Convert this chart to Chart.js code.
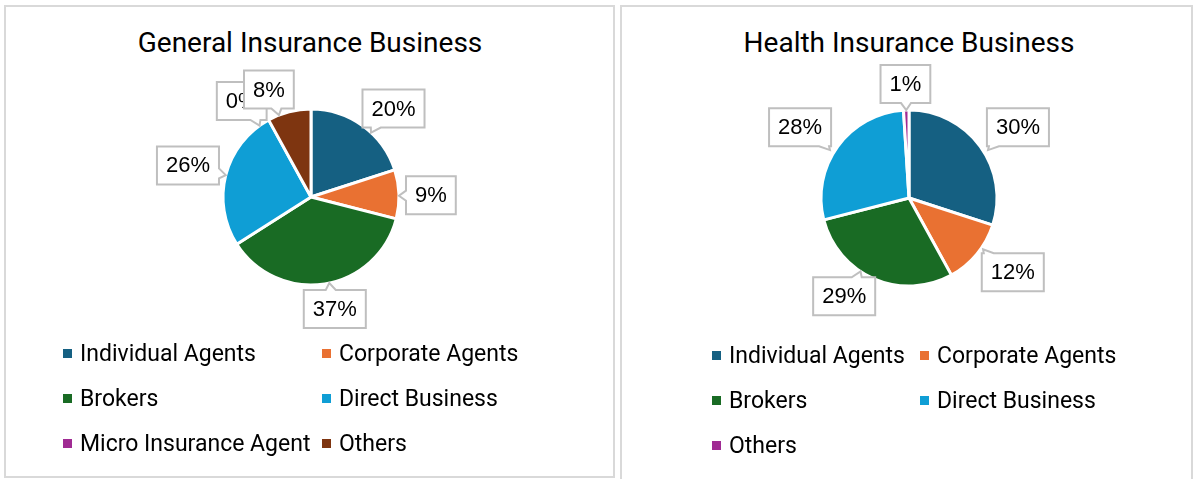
<!DOCTYPE html>
<html>
<head>
<meta charset="utf-8">
<script src="https://cdn.jsdelivr.net/npm/chart.js@4.4.1/dist/chart.umd.min.js"></script>
<style>
  html, body { margin: 0; padding: 0; background: #fff; width: 1197px; height: 479px; overflow: hidden; }
  .panel { position: absolute; border: 2px solid #D9D9D9; box-sizing: border-box; }
  #panelGeneral { left: 4px; top: 5px; width: 611px; height: 473px; }
  #panelHealth { left: 620px; top: 5px; width: 573px; height: 490px; }
  .title { position: absolute; width: 500px; text-align: center; white-space: nowrap;
           font-family: Roboto, sans-serif; font-size: 28px; line-height: 32px; color: #000; }
  .legend { position: absolute; display: grid; font-family: Roboto, sans-serif; font-size: 23px; color: #000; }
  .legend .item { display: flex; align-items: center; height: 45px; white-space: nowrap; }
  .legend .sw { width: 9px; height: 9px; margin-right: 8px; flex: none; }
  canvas { position: absolute; }
</style>
</head>
<body>
<div class="panel" id="panelGeneral"></div>
<div class="panel" id="panelHealth"></div>

<div class="title" id="titleGeneral" style="left:60px; top:27px;"></div>
<div class="title" id="titleHealth" style="left:659px; top:27px;"></div>

<canvas id="pieGeneral" width="600" height="390" style="left:11px; top:2px;"></canvas>
<canvas id="pieHealth" width="560" height="390" style="left:629px; top:3px;"></canvas>

<div class="legend" id="legendGeneral" style="left:63px; top:331px; grid-template-columns: 259px auto;"></div>
<div class="legend" id="legendHealth" style="left:712px; top:333px; grid-template-columns: 208px auto;"></div>

<script>
// Channel shares (%) for each line of business
const titleGeneral = 'General Insurance Business';
const categoriesGeneral = ['Individual Agents', 'Corporate Agents', 'Brokers', 'Direct Business', 'Micro Insurance Agent', 'Others'];
const sharesGeneral = [20, 9, 37, 26, 0, 8];
const coloursGeneral = ['#156082', '#E97132', '#196B24', '#0F9ED5', '#A02B93', '#7E3510'];

const titleHealth = 'Health Insurance Business';
const categoriesHealth = ['Individual Agents', 'Corporate Agents', 'Brokers', 'Direct Business', 'Others'];
const sharesHealth = [30, 12, 29, 28, 1];
const coloursHealth = ['#156082', '#E97132', '#196B24', '#0F9ED5', '#A02B93'];

// Small angular shifts (degrees) that keep neighbouring callouts apart
const calloutShiftGeneral = [7, 1, -3, 0, -7, -7];
const calloutShiftHealth = [3, -4, 10, -3, 0];

// Draws a bordered callout box with a small pointer aimed at the pie centre
function drawCallout(ctx, bx, by, w, h, px, py, opts) {
  const x0 = bx - w / 2, x1 = bx + w / 2, y0 = by - h / 2, y1 = by + h / 2;
  let vx = px - bx, vy = py - by;
  const len = Math.hypot(vx, vy) || 1;
  vx /= len; vy /= len;
  const tl = opts.tailLength, tb = opts.tailBase;
  let side, ex, ey;
  if (Math.abs(vx) * (h / 2) >= Math.abs(vy) * (w / 2)) {
    side = vx > 0 ? 'right' : 'left';
    ex = vx > 0 ? x1 : x0;
    ey = by + vy * (w / 2) / Math.abs(vx);
    ey = Math.max(y0 + tb + 2, Math.min(y1 - tb - 2, ey));
  } else {
    side = vy > 0 ? 'bottom' : 'top';
    ey = vy > 0 ? y1 : y0;
    ex = bx + vx * (h / 2) / Math.abs(vy);
    ex = Math.max(x0 + tb + 2, Math.min(x1 - tb - 2, ex));
  }
  const tx = ex + vx * tl, ty = ey + vy * tl;
  ctx.beginPath();
  ctx.moveTo(x0, y0);
  if (side === 'top') { ctx.lineTo(ex - tb, y0); ctx.lineTo(tx, ty); ctx.lineTo(ex + tb, y0); }
  ctx.lineTo(x1, y0);
  if (side === 'right') { ctx.lineTo(x1, ey - tb); ctx.lineTo(tx, ty); ctx.lineTo(x1, ey + tb); }
  ctx.lineTo(x1, y1);
  if (side === 'bottom') { ctx.lineTo(ex + tb, y1); ctx.lineTo(tx, ty); ctx.lineTo(ex - tb, y1); }
  ctx.lineTo(x0, y1);
  if (side === 'left') { ctx.lineTo(x0, ey + tb); ctx.lineTo(tx, ty); ctx.lineTo(x0, ey - tb); }
  ctx.closePath();
  ctx.fillStyle = '#FFFFFF';
  ctx.fill();
  ctx.lineWidth = opts.borderWidth;
  ctx.strokeStyle = opts.borderColor;
  ctx.lineJoin = 'miter';
  ctx.stroke();
}

// Percentage labels placed just outside each slice
const calloutLabels = {
  id: 'calloutLabels',
  afterDatasetsDraw(chart, args, opts) {
    const ctx = chart.ctx;
    const meta = chart.getDatasetMeta(0);
    const values = chart.data.datasets[0].data;
    const total = values.reduce((a, b) => a + b, 0);
    const shifts = opts.shift || [];
    ctx.save();
    ctx.font = opts.font;
    meta.data.forEach((arc, i) => {
      const p = arc.getProps(['x', 'y', 'startAngle', 'endAngle', 'outerRadius'], true);
      const mid = (p.startAngle + p.endAngle) / 2 + (shifts[i] || 0) * Math.PI / 180;
      const c = Math.cos(mid), s = Math.sin(mid);
      const text = Math.round(values[i] / total * 100) + '%';
      const w = ctx.measureText(text).width + 2 * opts.padX;
      const h = opts.height;
      const ex = Math.abs(c) > 1e-6 ? (w / 2) / Math.abs(c) : Infinity;
      const ey = Math.abs(s) > 1e-6 ? (h / 2) / Math.abs(s) : Infinity;
      const d = p.outerRadius + opts.gap + Math.min(ex, ey);
      const bx = p.x + c * d, by = p.y + s * d;
      drawCallout(ctx, bx, by, w, h, p.x, p.y, opts);
      ctx.fillStyle = '#000000';
      ctx.textAlign = 'center';
      ctx.textBaseline = 'middle';
      ctx.fillText(text, bx, by + 1);
    });
    ctx.restore();
  }
};

function makePie(canvasId, labels, values, colours, shift) {
  return new Chart(document.getElementById(canvasId), {
    type: 'pie',
    data: {
      labels: labels,
      datasets: [{
        data: values,
        backgroundColor: colours,
        borderColor: '#FFFFFF',
        borderWidth: 3,
        radius: 88
      }]
    },
    options: {
      responsive: false,
      animation: false,
      events: [],
      layout: { padding: 0 },
      plugins: {
        legend: { display: false },
        title: { display: false },
        tooltip: { enabled: false },
        calloutLabels: {
          font: '22px "Liberation Sans", Arial, sans-serif',
          padX: 9, height: 38, gap: 7,
          tailLength: 7, tailBase: 5,
          borderWidth: 2, borderColor: '#BFBFBF',
          shift: shift
        }
      }
    },
    plugins: [calloutLabels]
  });
}

function buildLegend(id, labels, colours) {
  const box = document.getElementById(id);
  labels.forEach((label, i) => {
    const item = document.createElement('div');
    item.className = 'item';
    const sw = document.createElement('span');
    sw.className = 'sw';
    sw.style.background = colours[i];
    const tx = document.createElement('span');
    tx.textContent = label;
    item.appendChild(sw);
    item.appendChild(tx);
    box.appendChild(item);
  });
}

document.getElementById('titleGeneral').textContent = titleGeneral;
document.getElementById('titleHealth').textContent = titleHealth;
makePie('pieGeneral', categoriesGeneral, sharesGeneral, coloursGeneral, calloutShiftGeneral);
makePie('pieHealth', categoriesHealth, sharesHealth, coloursHealth, calloutShiftHealth);
buildLegend('legendGeneral', categoriesGeneral, coloursGeneral);
buildLegend('legendHealth', categoriesHealth, coloursHealth);
</script>
</body>
</html>
